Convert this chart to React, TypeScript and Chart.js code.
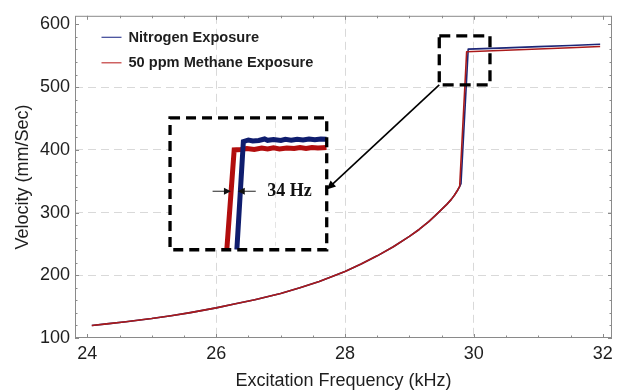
import React, { useEffect, useRef } from "react";
import { Chart, registerables } from "chart.js";

Chart.register(...registerables);

// ---------- data ----------
const X_TICKS = [24, 26, 28, 30, 32];
const Y_TICKS = [100, 200, 300, 400, 500, 600];
const X_GRID = [26, 28, 30];
const Y_GRID = [200, 300, 400, 500];

const N2_FREQ = [24.07, 24.3, 24.6, 25.0, 25.3, 25.6, 26.0, 26.3, 26.6, 27.0, 27.3, 27.6, 28.0, 28.25, 28.5, 28.75, 29.0, 29.15, 29.3, 29.4, 29.5, 29.58, 29.65, 29.7, 29.75, 29.78, 29.8, 29.912, 30.5, 31.0, 31.5, 31.96];
const N2_VEL = [120, 122.5, 126, 131, 135.5, 140.5, 148, 154.5, 161, 171, 180, 190, 206, 218, 231, 245.5, 262, 273, 285.5, 295, 305, 313, 321, 328, 336, 341.5, 346, 560.5, 562.6, 564.5, 566.4, 568.3];

const CH4_FREQ = [24.07, 24.3, 24.6, 25.0, 25.3, 25.6, 26.0, 26.3, 26.6, 27.0, 27.3, 27.6, 28.0, 28.25, 28.5, 28.75, 29.0, 29.15, 29.3, 29.4, 29.5, 29.58, 29.65, 29.7, 29.75, 29.78, 29.888, 30.5, 31.0, 31.5, 31.96];
const CH4_VEL = [120, 122.5, 126, 131, 135.5, 140.5, 148, 154.5, 161, 171, 180, 190, 206, 218, 231, 245.5, 262, 273, 285.5, 295, 305, 313, 321, 328, 336, 342, 556.4, 558.8, 560.8, 562.8, 564.7];

// inset (zoomed view of the jump)
const INSET_N2_FREQ = [29.776, 29.798, 29.815, 29.83, 29.85, 29.87, 29.88, 29.9, 29.925, 29.94, 29.96, 29.98, 30.0, 30.02, 30.04, 30.06, 30.08];
const INSET_N2_VEL = [500, 565.6, 566.6, 566.0, 566.3, 567.2, 566.4, 566.9, 566.3, 567.0, 566.5, 567.1, 566.6, 567.2, 566.7, 567.2, 567.0];
const INSET_CH4_FREQ = [29.742, 29.767, 29.79, 29.81, 29.835, 29.86, 29.88, 29.9, 29.92, 29.945, 29.97, 29.99, 30.01, 30.03, 30.05, 30.08];
const INSET_CH4_VEL = [500, 560.6, 560.8, 561.4, 560.9, 561.7, 561.1, 561.8, 561.2, 561.8, 561.4, 562.0, 561.5, 562.1, 561.7, 562.0];

const INSET_FREQ_RANGE = [29.55, 30.08];
const INSET_VEL_RANGE = [500, 580];
const INSET_GRID_FREQ = [29.905];

// annotation geometry, in data units
const ZOOM_BOX_FREQ = [29.463, 30.25];
const ZOOM_BOX_VEL = [503.6, 581.7];
const INSET_BOX_FREQ = [25.284, 27.716];
const INSET_BOX_VEL = [240.7, 450.9];
const CONNECTOR_INSET_VEL = 536.5;
const GAP_LABEL = "34 Hz";
const GAP_LABEL_POS = [29.879, 535.5];
const GAP_ARROW_LEFT = [29.694, 29.756];
const GAP_ARROW_RIGHT = [29.84, 29.779];
const GAP_ARROW_VEL = 535.5;

const BLUE = "#1c2677";
const RED = "#ab1a1a";
const INSET_BLUE = "#0f1d6e";
const INSET_RED = "#b20e0e";
const LEGEND_BLUE = "#3a4596";
const LEGEND_RED = "#c23a3a";
const GRID = "#d9d9d9";
const FRAME = "#8a8a8a";
const TEXT = "#1e1e1e";
const FONT = "'Liberation Sans', Arial, sans-serif";

function arrowHead(ctx: CanvasRenderingContext2D, x1: number, y1: number, x2: number, y2: number, len: number, half: number) {
  const dx = x2 - x1, dy = y2 - y1;
  const d = Math.hypot(dx, dy) || 1;
  const ux = dx / d, uy = dy / d;
  const bx = x2 - ux * len, by = y2 - uy * len;
  ctx.beginPath();
  ctx.moveTo(x1, y1);
  ctx.lineTo(bx + ux * 1, by + uy * 1);
  ctx.stroke();
  ctx.beginPath();
  ctx.moveTo(x2, y2);
  ctx.lineTo(bx - uy * half, by + ux * half);
  ctx.lineTo(bx + uy * half, by - ux * half);
  ctx.closePath();
  ctx.fill();
}

const insetLayoutPlugin = {
  id: "insetLayout",
  afterLayout(chart: any) {
    const xs = chart.scales.x, ys = chart.scales.y;
    const xi = chart.scales.xi, yi = chart.scales.yi;
    const l = xs.getPixelForValue(INSET_BOX_FREQ[0]);
    const r = xs.getPixelForValue(INSET_BOX_FREQ[1]);
    const t = ys.getPixelForValue(INSET_BOX_VEL[1]);
    const b = ys.getPixelForValue(INSET_BOX_VEL[0]);
    xi.left = l; xi.right = r; xi.width = r - l; xi.configure();
    yi.top = t; yi.bottom = b; yi.height = b - t; yi.configure();
  },
  beforeDatasetsDraw(chart: any) {
    const { ctx } = chart;
    const xi = chart.scales.xi, yi = chart.scales.yi;
    const l = xi.left, r = xi.right, t = yi.top, b = yi.bottom;
    ctx.save();
    ctx.fillStyle = "#ffffff";
    ctx.fillRect(l, t, r - l, b - t);
    ctx.strokeStyle = "#e4e4e4";
    ctx.lineWidth = 1;
    ctx.setLineDash([6, 4]);
    for (const v of INSET_GRID_FREQ) {
      const px = Math.round(xi.getPixelForValue(v)) + 0.5;
      ctx.beginPath();
      ctx.moveTo(px, t + 4);
      ctx.lineTo(px, b - 4);
      ctx.stroke();
    }
    ctx.restore();
  },
  afterDatasetsDraw(chart: any) {
    const { ctx, chartArea: ca } = chart;
    const xs = chart.scales.x, ys = chart.scales.y;
    const xi = chart.scales.xi, yi = chart.scales.yi;
    ctx.save();

    // frame
    ctx.strokeStyle = FRAME;
    ctx.lineWidth = 1;
    ctx.setLineDash([]);
    ctx.strokeRect(ca.left + 0.5, ca.top + 0.5, ca.right - ca.left - 1, ca.bottom - ca.top - 1);
    for (let v = X_TICKS[0]; v <= X_TICKS[X_TICKS.length - 1] + 1e-9; v += 0.5) {
      const major = X_TICKS.some((m) => Math.abs(m - v) < 1e-6);
      const len = major ? 4 : 2.5;
      const px = Math.round(xs.getPixelForValue(v)) + 0.5;
      ctx.beginPath();
      ctx.moveTo(px, ca.bottom); ctx.lineTo(px, ca.bottom - len);
      ctx.moveTo(px, ca.top); ctx.lineTo(px, ca.top + len);
      ctx.stroke();
    }
    for (let v = Y_TICKS[0]; v <= Y_TICKS[Y_TICKS.length - 1] + 1e-9; v += 20) {
      const major = Y_TICKS.some((m) => Math.abs(m - v) < 1e-6);
      const len = major ? 4 : 2.5;
      const py = Math.round(ys.getPixelForValue(v)) + 0.5;
      ctx.beginPath();
      ctx.moveTo(ca.left, py); ctx.lineTo(ca.left + len, py);
      ctx.moveTo(ca.right, py); ctx.lineTo(ca.right - len, py);
      ctx.stroke();
    }

    // dashed zoom box around the jump
    ctx.strokeStyle = "#000";
    ctx.lineWidth = 3.3;
    ctx.setLineDash([11, 6]);
    const zl = xs.getPixelForValue(ZOOM_BOX_FREQ[0]);
    const zr = xs.getPixelForValue(ZOOM_BOX_FREQ[1]);
    const zt = ys.getPixelForValue(ZOOM_BOX_VEL[1]);
    const zb = ys.getPixelForValue(ZOOM_BOX_VEL[0]);
    ctx.strokeRect(zl, zt, zr - zl, zb - zt);

    // inset dashed box
    const il = xi.left, ir = xi.right, it = yi.top, ib = yi.bottom;
    ctx.setLineDash([10, 6]);
    ctx.strokeRect(il, it, ir - il, ib - it);
    ctx.setLineDash([]);

    // connector from zoom box to inset
    ctx.lineWidth = 1.6;
    ctx.fillStyle = "#000";
    arrowHead(ctx, zl, zb, ir, yi.getPixelForValue(CONNECTOR_INSET_VEL), 9, 4);

    // 34 Hz arrows
    ctx.lineWidth = 1;
    ctx.strokeStyle = "#222";
    ctx.fillStyle = "#111";
    const ay = yi.getPixelForValue(GAP_ARROW_VEL);
    arrowHead(ctx, xi.getPixelForValue(GAP_ARROW_LEFT[0]), ay, xi.getPixelForValue(GAP_ARROW_LEFT[1]), ay, 7, 3.5);
    arrowHead(ctx, xi.getPixelForValue(GAP_ARROW_RIGHT[0]), ay, xi.getPixelForValue(GAP_ARROW_RIGHT[1]), ay, 7, 3.5);

    ctx.fillStyle = "#111";
    ctx.font = "bold 18px 'Liberation Serif', 'Times New Roman', serif";
    ctx.textAlign = "left";
    ctx.textBaseline = "middle";
    ctx.fillText(GAP_LABEL, xi.getPixelForValue(GAP_LABEL_POS[0]), yi.getPixelForValue(GAP_LABEL_POS[1]));

    // legend
    const legendColors = [LEGEND_BLUE, LEGEND_RED];
    [0, 1].forEach((i) => {
      const ds: any = chart.data.datasets[i];
      const y = ca.top + 21.5 + i * 25.5;
      ctx.strokeStyle = legendColors[i];
      ctx.lineWidth = 1.2;
      ctx.beginPath();
      ctx.moveTo(ca.left + 26.5, y);
      ctx.lineTo(ca.left + 46.5, y);
      ctx.stroke();
      ctx.fillStyle = TEXT;
      ctx.font = `bold 14.6px ${FONT}`;
      ctx.textBaseline = "middle";
      ctx.fillText(ds.label, ca.left + 53.5, y + 0.5);
    });

    ctx.restore();
  },
};

export default function App() {
  const ref = useRef<HTMLCanvasElement | null>(null);
  useEffect(() => {
    const canvas = ref.current;
    if (!canvas) return;
    Chart.defaults.font.family = FONT;
    const pts = (xs: number[], ys: number[]) => xs.map((x, i) => ({ x, y: ys[i] }));
    const chart = new Chart(canvas, {
      type: "line",
      data: {
        datasets: [
          { label: "Nitrogen Exposure", data: pts(N2_FREQ, N2_VEL), borderColor: BLUE, borderWidth: 1.6, pointRadius: 0, tension: 0, borderJoinStyle: "round", order: 2, xAxisID: "x", yAxisID: "y" },
          { label: "50 ppm Methane Exposure", data: pts(CH4_FREQ, CH4_VEL), borderColor: RED, borderWidth: 1.6, pointRadius: 0, tension: 0, borderJoinStyle: "round", order: 1, xAxisID: "x", yAxisID: "y" },
          { label: "inset-ch4", data: pts(INSET_CH4_FREQ, INSET_CH4_VEL), borderColor: INSET_RED, borderWidth: 5, pointRadius: 0, tension: 0, order: 4, xAxisID: "xi", yAxisID: "yi", borderCapStyle: "butt", borderJoinStyle: "miter" },
          { label: "inset-n2", data: pts(INSET_N2_FREQ, INSET_N2_VEL), borderColor: INSET_BLUE, borderWidth: 5, pointRadius: 0, tension: 0, order: 3, xAxisID: "xi", yAxisID: "yi", borderCapStyle: "butt", borderJoinStyle: "miter" },
        ] as any,
      },
      options: {
        responsive: false,
        animation: false,
        devicePixelRatio: 1,
        layout: { padding: { top: 13, right: 9, left: 0, bottom: 0 } },
        plugins: { legend: { display: false }, tooltip: { enabled: false } },
        scales: {
          x: {
            type: "linear",
            position: "bottom",
            min: 23.809,
            max: 32.144,
            afterBuildTicks: (s: any) => { s.ticks = X_TICKS.map((v) => ({ value: v })); },
            afterFit: (s: any) => { s.height = 52; },
            grid: {
              color: (c: any) => (c.tick && X_GRID.includes(c.tick.value) ? GRID : "rgba(0,0,0,0)"),
              lineWidth: 1,
              drawTicks: false,
            },
            border: { display: false, dash: [8, 5] },
            ticks: { color: TEXT, font: { size: 18, family: FONT }, padding: 5, maxRotation: 0, autoSkip: false },
            title: { display: true, text: "Excitation Frequency (kHz)", color: TEXT, font: { size: 18, family: FONT, lineHeight: 1 }, padding: { top: 0, bottom: 0 } },
          },
          y: {
            type: "linear",
            position: "left",
            min: 100,
            max: 613.7,
            afterBuildTicks: (s: any) => { s.ticks = Y_TICKS.map((v) => ({ value: v })); },
            afterFit: (s: any) => { s.width = 75; },
            grid: {
              color: (c: any) => (c.tick && Y_GRID.includes(c.tick.value) ? GRID : "rgba(0,0,0,0)"),
              lineWidth: 1,
              drawTicks: false,
            },
            border: { display: false, dash: [8, 5] },
            ticks: { color: TEXT, font: { size: 18, family: FONT }, padding: 5, autoSkip: false },
            title: { display: true, text: "Velocity (mm/Sec)", color: TEXT, font: { size: 18, family: FONT, lineHeight: 1 }, padding: { top: 14, bottom: 0 } },
          },
          xi: { type: "linear", position: "bottom", display: false, min: INSET_FREQ_RANGE[0], max: INSET_FREQ_RANGE[1] },
          yi: { type: "linear", position: "left", display: false, min: INSET_VEL_RANGE[0], max: INSET_VEL_RANGE[1] },
        },
      } as any,
      plugins: [insetLayoutPlugin],
    });
    return () => chart.destroy();
  }, []);

  return (
    <div style={{ position: "fixed", left: 0, top: 0, width: 621, height: 390, background: "#fff" }}>
      <canvas ref={ref} width={621} height={390} style={{ width: 621, height: 390, display: "block" }} />
    </div>
  );
}
